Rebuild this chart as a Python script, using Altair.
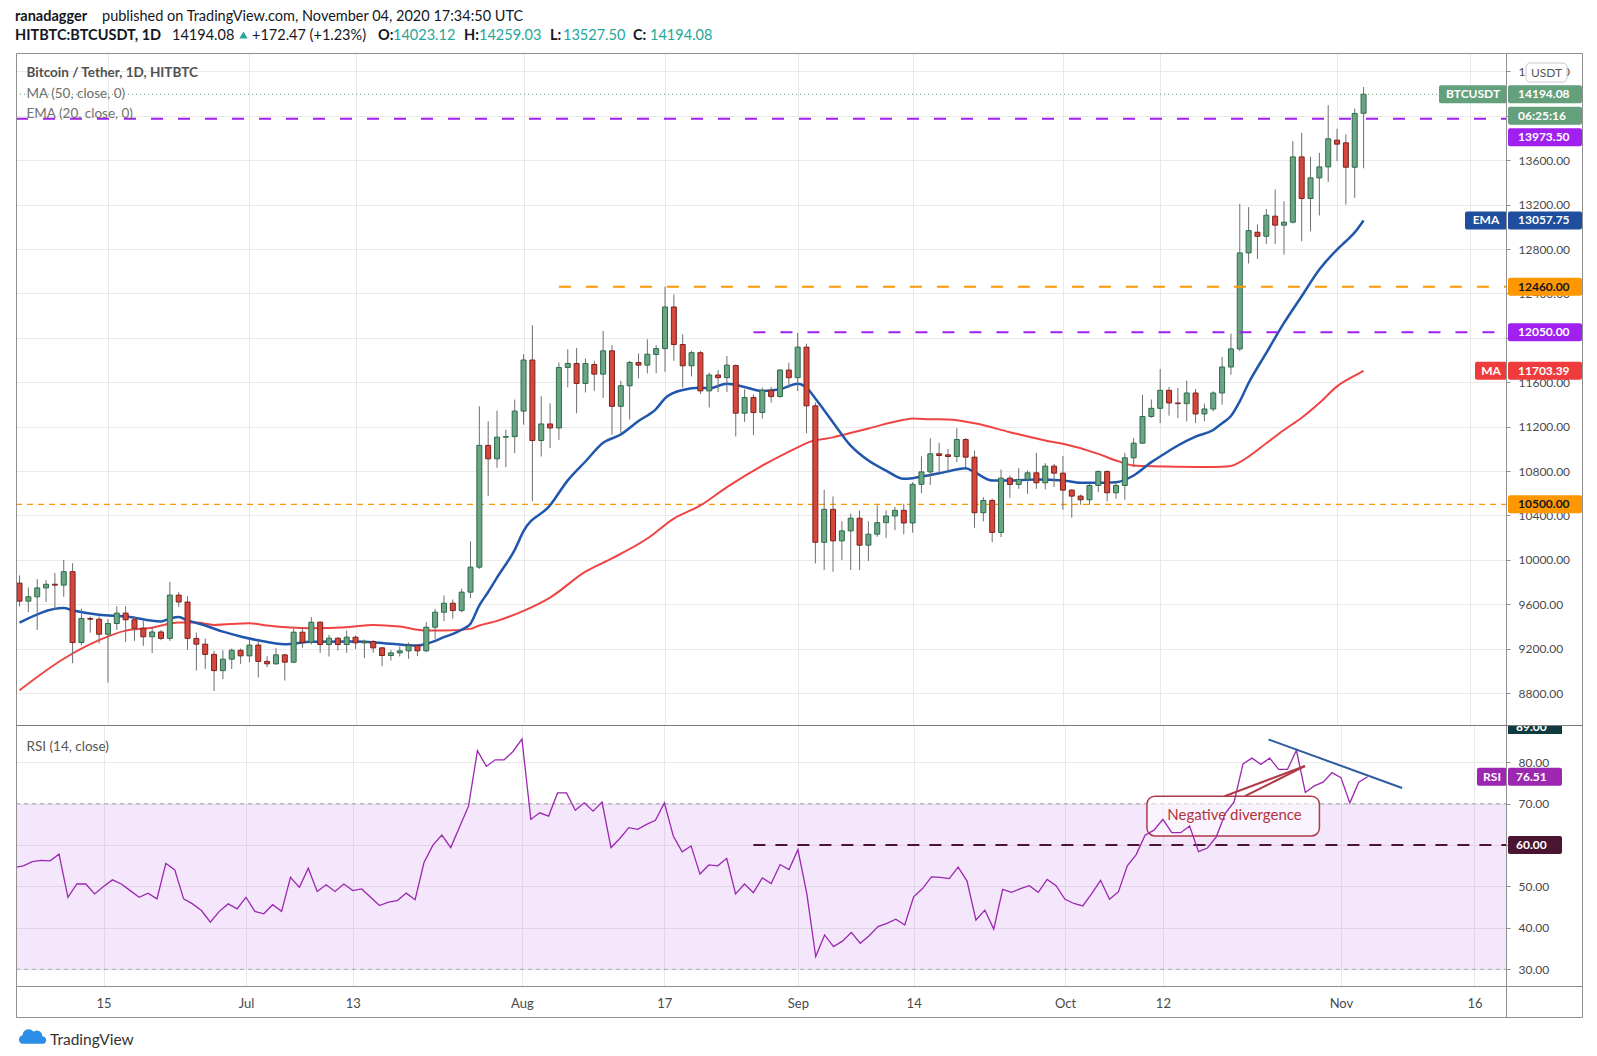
import altair as alt
import pandas as pd

# ------------------------------------------------------------------ data
days = pd.date_range("2020-06-05", "2020-11-04", freq="D").strftime("%Y-%m-%d").tolist()

opens = [
    # Jun 5-30
    9790, 9628, 9667, 9747, 9780, 9772, 9893, 9255, 9472, 9465, 9330, 9426, 9520,
    9460, 9383, 9307, 9350, 9292, 9682, 9620, 9292, 9240, 9148, 9002, 9105, 9185,
    # Jul
    9135, 9232, 9085, 9063, 9144, 9078, 9348, 9258, 9438, 9237, 9294, 9237, 9303,
    9252, 9264, 9207, 9138, 9162, 9180, 9228, 9180, 9393, 9528, 9609, 9543, 9709,
    9934, 11031, 10910, 11105, 11110,
    # Aug
    11340, 11800, 11075, 11224, 11188, 11733, 11769, 11589, 11760, 11673, 11883,
    11383, 11568, 11778, 11754, 11850, 11903, 12278, 11940, 11748, 11866, 11522,
    11665, 11641, 11750, 11321, 11462, 11327, 11527, 11471, 11710,
    # Sep
    11641, 11916, 11387, 10158, 10455, 10171, 10261, 10375, 10132, 10231, 10335,
    10395, 10446, 10332, 10680, 10792, 10955, 10946, 10931, 11084, 10925, 10424,
    10535, 10247, 10736, 10679, 10724, 10784, 10694, 10844,
    # Oct
    10781, 10628, 10574, 10541, 10670, 10796, 10604, 10670, 10919, 11051, 11291,
    11365, 11527, 11413, 11407, 11503, 11314, 11359, 11503, 11737, 11900, 12765,
    12951, 12915, 13096, 13015, 13042, 13630, 13255, 13441, 13540,
    # Nov 1-4
    13781, 13757, 13537, 14023.12,
]
highs = [
    9860, 9750, 9826, 9817, 9881, 10000, 9969, 9560, 9490, 9490, 9466, 9582, 9582,
    9490, 9450, 9398, 9368, 9802, 9710, 9673, 9344, 9292, 9179, 9185, 9200, 9200,
    9283, 9270, 9132, 9204, 9153, 9378, 9384, 9483, 9447, 9324, 9303, 9363, 9318,
    9282, 9279, 9213, 9189, 9219, 9255, 9234, 9438, 9558, 9679, 9643, 9739, 10166,
    11383, 11248, 11344, 11173, 11443,
    11853, 12113, 11473, 11410, 11778, 11897, 11907, 11814, 11793, 12062, 11933,
    11613, 11793, 11859, 11987, 11933, 12460, 12391, 12032, 11883, 11883, 11686,
    11709, 11835, 11760, 11536, 11491, 11551, 11557, 11716, 11775,
    12044, 11948, 11417, 10631, 10571, 10347, 10416, 10446, 10347, 10491, 10446,
    10476, 10506, 10700, 10933, 11095, 11054, 11000, 11186, 11096, 10985, 10565,
    10550, 10814, 10760, 10826, 10805, 10964, 10871, 10865,
    10934, 10635, 10589, 10685, 10805, 10805, 10700, 10964, 11096, 11486, 11444,
    11720, 11557, 11548, 11614, 11539, 11407, 11518, 11828, 12038, 13207, 13177,
    13021, 13162, 13336, 13231, 13772, 13847, 13630, 13667, 14096,
    13883, 13832, 14066, 14259.03,
]
lows = [
    9580, 9530, 9368, 9621, 9551, 9667, 9069, 9230, 9344, 9246, 8895, 9368, 9261,
    9270, 9225, 9160, 9276, 9270, 9576, 9190, 9002, 9017, 8818, 8925, 9017, 9063,
    9078, 8940, 9033, 9054, 8913, 9069, 9207, 9237, 9162, 9129, 9183, 9162, 9198,
    9114, 9162, 9042, 9093, 9129, 9108, 9132, 9168, 9288, 9447, 9469, 9528, 9655,
    9919, 10575, 10829, 10835, 10961,
    11218, 10527, 10931, 11006, 11081, 11553, 11320, 11508, 11523, 11458, 11126,
    11143, 11263, 11634, 11679, 11682, 11694, 11793, 11553, 11652, 11494, 11372,
    11512, 11512, 11112, 11243, 11124, 11273, 11417, 11462, 11551,
    11521, 11142, 9968, 9908, 9893, 9998, 9908, 9908, 9989, 10207, 10198,
    10267, 10231, 10245, 10601, 10675, 10775, 10796, 10880, 10835, 10289, 10346,
    10160, 10205, 10559, 10640, 10595, 10640, 10634, 10655,
    10451, 10379, 10496, 10496, 10610, 10526, 10550, 10541, 10835, 11045, 11280,
    11232, 11299, 11278, 11248, 11232, 11248, 11338, 11398, 11668, 11879, 12669,
    12711, 12846, 12846, 12750, 13030, 12870, 12960, 13102, 13405,
    13592, 13200, 13261, 13527.50,
]
closes = [
    9628, 9667, 9747, 9780, 9772, 9893, 9255, 9472, 9465, 9330, 9426, 9520, 9460,
    9383, 9307, 9350, 9292, 9682, 9620, 9292, 9240, 9148, 9002, 9105, 9185, 9135,
    9232, 9085, 9063, 9144, 9078, 9348, 9258, 9438, 9237, 9294, 9237, 9303, 9252,
    9264, 9207, 9138, 9162, 9180, 9228, 9180, 9393, 9528, 9609, 9543, 9709, 9934,
    11031, 10910, 11105, 11110, 11340,
    11800, 11075, 11224, 11188, 11733, 11769, 11589, 11769, 11673, 11883, 11383,
    11568, 11778, 11754, 11853, 11903, 12278, 11940, 11748, 11866, 11522, 11665,
    11641, 11754, 11321, 11462, 11327, 11527, 11471, 11710, 11641,
    11916, 11387, 10158, 10455, 10171, 10261, 10375, 10132, 10231, 10335, 10395,
    10446, 10332, 10680, 10792, 10955, 10940, 10931, 11084, 10925, 10424, 10535,
    10247, 10736, 10679, 10724, 10784, 10694, 10844, 10781,
    10628, 10574, 10541, 10670, 10796, 10604, 10670, 10919, 11051, 11291, 11365,
    11527, 11413, 11407, 11503, 11314, 11359, 11503, 11737, 11900, 12765, 12966,
    12915, 13105, 13015, 13042, 13630, 13255, 13441, 13540, 13793,
    13745, 13537, 14021.61, 14194.08,
]
rsi_vals = [
    54.6, 55.0, 56.0, 56.3, 56.2, 57.8, 47.4, 50.6, 50.6, 48.2, 50.0, 51.6, 50.6,
    49.0, 47.4, 48.4, 47.0, 55.6, 54.0, 47.0, 45.8, 44.2, 41.4, 44.0, 45.8, 44.6,
    47.4, 44.0, 43.4, 45.6, 44.0, 52.2, 49.8, 54.4, 48.8, 50.4, 48.8, 50.6, 49.0,
    49.4, 47.4, 45.4, 46.2, 46.6, 48.4, 46.8, 55.8, 60.0, 62.4, 59.4, 64.4, 69.4,
    82.8, 79.0, 80.6, 80.6, 82.6,
    85.6, 66.2, 67.8, 67.0, 72.6, 72.6, 68.4, 70.2, 68.2, 70.4, 59.4, 61.6, 64.2,
    63.8, 65.0, 66.0, 70.2, 62.2, 58.4, 59.8, 53.0, 55.2, 55.0, 56.8, 48.2, 50.6,
    48.5, 52.1, 50.7, 55.3, 54.1,
    58.9, 48.3, 33.1, 38.3, 35.5, 36.8, 38.9, 36.3, 38.1, 40.3, 41.1, 42.1, 40.7,
    47.5, 49.5, 52.3, 52.2, 51.9, 54.7, 51.3, 41.9, 44.3, 39.7, 49.3, 48.6, 49.5,
    50.2, 48.6, 51.7, 50.2,
    46.9, 45.9, 45.3, 48.3, 51.5, 46.9, 48.7, 55.0, 57.7, 62.4, 63.6, 66.2, 63.0,
    63.0, 64.6, 58.4, 59.3, 62.0, 67.6, 70.4, 79.6, 81.0, 79.5, 81.0, 78.3, 78.3,
    82.9, 72.7, 74.3, 75.2, 77.5,
    76.3, 70.2, 75.2, 76.51,
]

ema_dates = [
    "2020-06-05", "2020-06-10", "2020-06-11", "2020-06-14", "2020-06-17", "2020-06-21",
    "2020-06-22", "2020-06-23", "2020-06-24", "2020-06-26", "2020-06-28", "2020-06-30",
    "2020-07-02", "2020-07-05", "2020-07-08", "2020-07-13", "2020-07-17", "2020-07-20",
    "2020-07-21", "2020-07-23", "2020-07-25", "2020-07-26", "2020-07-27", "2020-07-28",
    "2020-07-29", "2020-07-31", "2020-08-01", "2020-08-04", "2020-08-06", "2020-08-08",
    "2020-08-10", "2020-08-12", "2020-08-14", "2020-08-16", "2020-08-17", "2020-08-19",
    "2020-08-21", "2020-08-22", "2020-08-24", "2020-08-26", "2020-08-28", "2020-08-30",
    "2020-09-01", "2020-09-02", "2020-09-03", "2020-09-05", "2020-09-07", "2020-09-09",
    "2020-09-11", "2020-09-13", "2020-09-14", "2020-09-16", "2020-09-17", "2020-09-19",
    "2020-09-20", "2020-09-21", "2020-09-23", "2020-09-25", "2020-09-28", "2020-10-01",
    "2020-10-03", "2020-10-05", "2020-10-07", "2020-10-09", "2020-10-11", "2020-10-12",
    "2020-10-14", "2020-10-16", "2020-10-18", "2020-10-19", "2020-10-20", "2020-10-21",
    "2020-10-22", "2020-10-24", "2020-10-26", "2020-10-28", "2020-10-30", "2020-11-01",
    "2020-11-02", "2020-11-03", "2020-11-04",
]
ema_vals = [
    9435, 9566, 9545, 9505, 9490, 9444, 9470, 9484, 9454, 9408, 9353, 9310,
    9275, 9240, 9262, 9265, 9243, 9228, 9243, 9303, 9370, 9425, 9590, 9710,
    9840, 10090, 10258, 10491, 10716, 10886, 11054, 11129, 11250, 11360, 11455, 11530,
    11551, 11545, 11587, 11557, 11521, 11536, 11587, 11551, 11453, 11238, 11028, 10894,
    10804, 10730, 10736, 10765, 10780, 10814, 10826, 10790, 10715, 10715, 10724, 10715,
    10694, 10694, 10700, 10760, 10880, 10931, 11030, 11110, 11170, 11230, 11295, 11428,
    11593, 11864, 12134, 12375, 12615, 12795, 12870, 12950, 13057.75,
]
ma_dates = [
    "2020-06-05", "2020-06-10", "2020-06-14", "2020-06-17", "2020-06-20", "2020-06-23",
    "2020-06-25", "2020-06-27", "2020-07-01", "2020-07-03", "2020-07-08", "2020-07-12",
    "2020-07-15", "2020-07-18", "2020-07-21", "2020-07-23", "2020-07-26", "2020-07-27",
    "2020-07-29", "2020-08-01", "2020-08-04", "2020-08-08", "2020-08-11", "2020-08-15",
    "2020-08-18", "2020-08-21", "2020-08-24", "2020-08-28", "2020-09-01", "2020-09-02",
    "2020-09-05", "2020-09-09", "2020-09-13", "2020-09-14", "2020-09-16", "2020-09-18",
    "2020-09-21", "2020-09-25", "2020-09-29", "2020-10-01", "2020-10-05", "2020-10-07",
    "2020-10-09", "2020-10-11", "2020-10-14", "2020-10-17", "2020-10-19", "2020-10-20",
    "2020-10-21", "2020-10-22", "2020-10-24", "2020-10-26", "2020-10-28", "2020-10-30",
    "2020-11-01", "2020-11-03", "2020-11-04",
]
ma_vals = [
    8825, 9109, 9276, 9362, 9389, 9435, 9435, 9414, 9429, 9408, 9384, 9393,
    9414, 9399, 9363, 9363, 9378, 9408, 9450, 9540, 9660, 9893, 10013, 10192,
    10372, 10490, 10655, 10849, 11014, 11052, 11103, 11184, 11261, 11273, 11267, 11264,
    11231, 11150, 11075, 11045, 10955, 10895, 10850, 10844, 10838, 10836, 10838, 10845,
    10880, 10930, 11050, 11170, 11280, 11413, 11563, 11659, 11703.39,
]

# horizontal levels drawn on the chart
level_top = 13973.50      # purple, full width
level_mid = 12050.00      # purple, from Aug 27
level_orange = 12460.00   # orange, from Aug 5
level_support = 10500.00  # thin orange, full width
last_price = 14194.08
ema_last = 13057.75
ma_last = 11703.39
rsi_last = 76.51

tick_dates = ["2020-06-15", "2020-07-01", "2020-07-13", "2020-08-01", "2020-08-17",
              "2020-09-01", "2020-09-14", "2020-10-01", "2020-10-12", "2020-11-01",
              "2020-11-16"]
# price grid every 400; 12000 and 14000 labels sit fully under the level tags
grid_ticks = list(range(8800, 14401, 400))
price_labels = [8800, 9200, 9600, 10000, 10400, 10800, 11200, 11600, 12400, 12800,
                13200, 13600, 14400]
rsi_ticks = [30, 40, 50, 60, 70, 80]

# ------------------------------------------------------------------ layout / style
W, H_MAIN, H_RSI = 1490, 672, 261
P_LO, P_HI = 8512, 14566
R_LO, R_HI = 25.97, 89.0
P_PER_PX = (P_HI - P_LO) / H_MAIN
R_PER_PX = (R_HI - R_LO) / H_RSI
FONT = "Lato"
GRID = "#e9e9e9"
FRAME = "#8f8f8f"
PURPLE = "#a020f0"
ORANGE = "#ff9800"
TAG_GREEN = "#64a07c"
EMA_C = "#2156ad"
MA_C = "#f04343"
RSI_C = "#9c27b0"
DARK = "#131722"

ONE = pd.DataFrame({"k": [0]})


def dt(s):
    y, m, d = [int(v) for v in s.split("-")]
    return alt.DateTime(year=y, month=m, date=d, utc=True)


xscale = alt.Scale(type="utc", domain=[
    alt.DateTime(year=2020, month=6, date=5, hours=4, utc=True),
    alt.DateTime(year=2020, month=11, date=19, hours=13, utc=True)])
yscale = alt.Scale(domain=[P_LO, P_HI], nice=False, zero=False)
rscale = alt.Scale(domain=[R_LO, R_HI], nice=False, zero=False)

tick_vals = [dt(s) for s in tick_dates]
x_axis_top = alt.Axis(values=tick_vals, labels=False, ticks=False, domain=False,
                      grid=True, gridColor=GRID, title=None)
x_axis_bottom = alt.Axis(values=tick_vals, ticks=False, domain=False, grid=True,
                         gridColor=GRID, title=None, labelFont=FONT, labelFontSize=13,
                         labelColor="#4a4a4a", labelPadding=11, labelFlush=False,
                         labelExpr="utcdate(datum.value) == 1 ? utcFormat(datum.value, '%b') : utcFormat(datum.value, '%d')")
label_test = " || ".join(f"datum.value == {v}" for v in price_labels)
y_axis = alt.Axis(orient="right", values=grid_ticks, format=".2f", grid=True,
                  gridColor=GRID, domain=False, ticks=True, tickSize=4, tickColor=FRAME,
                  labelPadding=8, labelFont=FONT, labelFontSize=12, labelColor="#4a4a4a",
                  title=None, labelFlush=False,
                  labelExpr=f"({label_test}) ? format(datum.value, '.2f') : ''")
r_axis = alt.Axis(orient="right", values=rsi_ticks, format=".2f", grid=True,
                  gridColor=GRID, domain=False, ticks=True, tickSize=4, tickColor=FRAME,
                  labelPadding=8, labelFont=FONT, labelFontSize=12, labelColor="#4a4a4a",
                  title=None, labelFlush=False,
                  labelExpr="datum.value == 60 ? '' : format(datum.value, '.2f')")

# every layer of a pane uses the very same axis definition, so they merge cleanly
PANE = {
    "main": dict(xaxis=x_axis_top, yaxis=y_axis, yscale=yscale, per_px=P_PER_PX),
    "rsi": dict(xaxis=x_axis_bottom, yaxis=r_axis, yscale=rscale, per_px=R_PER_PX),
}


def X(field, pane):
    return alt.X(field, scale=xscale, axis=PANE[pane]["xaxis"])


def Y(field, pane):
    return alt.Y(field, scale=PANE[pane]["yscale"], axis=PANE[pane]["yaxis"])


def text(x, y, s, size=13.5, color="#555555", weight="normal", align="left",
         baseline="middle"):
    return alt.Chart(ONE).mark_text(text=s, font=FONT, fontSize=size, color=color,
                                    fontWeight=weight, align=align,
                                    baseline=baseline).encode(x=alt.value(x), y=alt.value(y))


def hline(price, color, dash, width, pane, start=None):
    df = pd.DataFrame({"p": [price], "s": [start or "2020-06-05"]})
    enc = dict(y=Y("p:Q", pane), x2=alt.value(W))
    enc["x"] = X("s:T", pane) if start else alt.value(0)
    return alt.Chart(df).mark_rule(color=color, strokeDash=dash,
                                   strokeWidth=width).encode(**enc)


def tag(value, label, fill, x1, x2, tx, pane, align="left", off_px=0.0, half=9,
        ink="white"):
    per_px = PANE[pane]["per_px"]
    c = value - off_px * per_px
    df = pd.DataFrame({"lo": [c - half * per_px], "hi": [c + half * per_px], "c": [c],
                       "t": [label]})
    r = alt.Chart(df).mark_rect(color=fill, cornerRadius=2).encode(
        x=alt.value(x1), x2=alt.value(x2), y=Y("lo:Q", pane), y2="hi:Q")
    t = alt.Chart(df).mark_text(color=ink, font=FONT, fontSize=12, fontWeight="bold",
                                align=align, baseline="middle").encode(
        x=alt.value(tx), y=Y("c:Q", pane), text="t:N")
    return [r, t]


# ------------------------------------------------------------------ main pane
candles = pd.DataFrame({"date": days, "open": opens, "high": highs, "low": lows,
                        "close": closes})
ema_df = pd.DataFrame({"date": ema_dates, "v": ema_vals})
ma_df = pd.DataFrame({"date": ma_dates, "v": ma_vals})

up = alt.datum.close >= alt.datum.open

anchor = alt.Chart(ONE).mark_rect(opacity=0).encode(
    x=alt.value(-7), x2=alt.value(0), y=alt.value(-43), y2=alt.value(0))

wicks = alt.Chart(candles).mark_rule(color="#6f6f6f", strokeWidth=1, clip=True).encode(
    x=X("date:T", "main"), y=Y("low:Q", "main"), y2="high:Q")
bodies = alt.Chart(candles).mark_bar(width=5, strokeWidth=1, clip=True).encode(
    x=X("date:T", "main"), y=Y("open:Q", "main"), y2="close:Q",
    fill=alt.condition(up, alt.value("#6ba584"), alt.value("#d5473c")),
    stroke=alt.condition(up, alt.value("#2d6b4a"), alt.value("#7c221b")))

ema_line = alt.Chart(ema_df).mark_line(color=EMA_C, strokeWidth=2.5, clip=True,
                                       interpolate="monotone").encode(
    x=X("date:T", "main"), y=Y("v:Q", "main"))
ma_line = alt.Chart(ma_df).mark_line(color=MA_C, strokeWidth=2, clip=True,
                                     interpolate="monotone").encode(
    x=X("date:T", "main"), y=Y("v:Q", "main"))

main_layers = [
    anchor,
    hline(level_support, ORANGE, [6, 5], 1.2, "main"),
    ma_line, ema_line, wicks, bodies,
    hline(last_price, TAG_GREEN, [1, 3], 1, "main"),
    hline(level_orange, ORANGE, [12, 15], 2, "main", start="2020-08-05"),
    hline(level_mid, PURPLE, [12, 15], 2, "main", start="2020-08-27"),
    hline(level_top, PURPLE, [12, 15], 2, "main"),
    text(10.5, 20.4, "Bitcoin / Tether, 1D, HITBTC", size=13.5, color="#505050",
         weight="bold"),
    text(10.5, 40.8, "MA (50, close, 0)", size=13.5, color="#707070"),
    text(10.5, 61, "EMA (20, close, 0)", size=13.5, color="#707070"),
]
# axis tags
main_layers += tag(last_price, "BTCUSDT", TAG_GREEN, 1423, 1491, 1457, "main", align="center")
main_layers += tag(last_price, f"{last_price:.2f}", TAG_GREEN, 1492, 1566, 1502, "main")
main_layers += tag(last_price, "06:25:16", TAG_GREEN, 1492, 1566, 1502, "main", off_px=21.5)
main_layers += tag(level_top, f"{level_top:.2f}", PURPLE, 1492, 1566, 1502, "main", off_px=18.4)
main_layers += tag(ema_last, "EMA", "#1f4e9e", 1449, 1491, 1470, "main", align="center")
main_layers += tag(ema_last, f"{ema_last:.2f}", "#1f4e9e", 1492, 1566, 1502, "main")
main_layers += tag(level_orange, f"{level_orange:.2f}", ORANGE, 1492, 1566, 1502, "main",
                   ink=DARK)
main_layers += tag(level_mid, f"{level_mid:.2f}", PURPLE, 1492, 1566, 1502, "main")
main_layers += tag(ma_last, "MA", "#ef3b3b", 1459, 1491, 1475, "main", align="center")
main_layers += tag(ma_last, f"{ma_last:.2f}", "#ef3b3b", 1492, 1566, 1502, "main")
main_layers += tag(level_support, f"{level_support:.2f}", ORANGE, 1492, 1566, 1502, "main",
                   ink=DARK)
# currency box on the axis
main_layers += [
    alt.Chart(ONE).mark_rect(fill="white", stroke="#c8c8c8", strokeWidth=1,
                             cornerRadius=4).encode(
        x=alt.value(1510), x2=alt.value(1551), y=alt.value(10), y2=alt.value(29)),
    text(1530.5, 19.5, "USDT", size=12, color="#555555", align="center"),
]
# header
TEAL = "#26a69a"
main_layers += [
    text(-1, -43, "ranadagger", size=14.5, color=DARK, weight="bold", baseline="top"),
    text(86, -43, "published on TradingView.com, November 04, 2020 17:34:50 UTC",
         size=14.5, color=DARK, baseline="top"),
    text(-1, -17.5, "HITBTC:BTCUSDT, 1D", size=14.5, color=DARK, weight="bold"),
    text(156, -17.5, "14194.08", size=14.5, color=DARK),
    alt.Chart(ONE).mark_point(shape="triangle-up", filled=True, opacity=1, size=70,
                              color=TEAL).encode(x=alt.value(227.5), y=alt.value(-18)),
    text(236, -17.5, "+172.47 (+1.23%)", size=14.5, color=DARK),
    text(362, -17.5, "O:", size=14.5, color=DARK, weight="bold"),
    text(377, -17.5, "14023.12", size=14.5, color=TEAL),
    text(448, -17.5, "H:", size=14.5, color=DARK, weight="bold"),
    text(463, -17.5, "14259.03", size=14.5, color=TEAL),
    text(534, -17.5, "L:", size=14.5, color=DARK, weight="bold"),
    text(547, -17.5, "13527.50", size=14.5, color=TEAL),
    text(617, -17.5, "C:", size=14.5, color=DARK, weight="bold"),
    text(634, -17.5, "14194.08", size=14.5, color=TEAL),
]

top = alt.layer(*main_layers).properties(width=W, height=H_MAIN)

# ------------------------------------------------------------------ RSI pane
rsi_df = pd.DataFrame({"date": days, "rsi": rsi_vals})
band = alt.Chart(pd.DataFrame({"a": [70], "b": [30]})).mark_rect(
    color="#b25de8", opacity=0.15).encode(
    x=alt.value(0), x2=alt.value(W), y=Y("a:Q", "rsi"), y2="b:Q")

box_df = pd.DataFrame({"x": ["2020-10-10T05:00:00Z"], "x2": ["2020-10-29T14:00:00Z"],
                       "y": [71.8], "y2": [62.2]})
box = alt.Chart(box_df).mark_rect(fill="#ffffff", fillOpacity=0.55, stroke="#b03a48",
                                  strokeWidth=1.5, cornerRadius=8).encode(
    x=X("x:T", "rsi"), x2="x2:T", y=Y("y:Q", "rsi"), y2="y2:Q")

rsi_line = alt.Chart(rsi_df).mark_line(color=RSI_C, strokeWidth=1.3, clip=True).encode(
    x=X("date:T", "rsi"), y=Y("rsi:Q", "rsi"))

ptr_df = pd.DataFrame({"x": ["2020-10-18T22:00:00Z", "2020-10-21T05:00:00Z"],
                       "x2": ["2020-10-27T23:00:00Z", "2020-10-27T23:00:00Z"],
                       "y": [71.8, 71.8], "y2": [79.1, 79.1]})
pointer = alt.Chart(ptr_df).mark_rule(color="#b03a48", strokeWidth=2).encode(
    x=X("x:T", "rsi"), x2="x2:T", y=Y("y:Q", "rsi"), y2="y2:Q")

trend_df = pd.DataFrame({"x": ["2020-10-23T21:00:00Z"], "x2": ["2020-11-07T21:00:00Z"],
                         "y": [85.5], "y2": [73.8]})
trend = alt.Chart(trend_df).mark_rule(color="#2e5c9e", strokeWidth=2).encode(
    x=X("x:T", "rsi"), x2="x2:T", y=Y("y:Q", "rsi"), y2="y2:Q")

note_df = pd.DataFrame({"x": ["2020-10-20T01:00:00Z"], "y": [67.2],
                        "t": ["Negative divergence"]})
note = alt.Chart(note_df).mark_text(font=FONT, fontSize=15, color="#b2323f",
                                    align="center", baseline="middle").encode(
    x=X("x:T", "rsi"), y=Y("y:Q", "rsi"), text="t:N")

rsi_layers = [
    band,
    hline(70, "#a8a8a8", [4, 4], 1, "rsi"),
    hline(30, "#a8a8a8", [4, 4], 1, "rsi"),
    hline(60, "#4a1531", [12, 10], 2, "rsi", start="2020-08-27"),
    box, rsi_line, pointer, trend, note,
    text(10.5, 21.6, "RSI (14, close)", size=13.5, color="#555555"),
]
rsi_layers += tag(rsi_last, "RSI", RSI_C, 1461, 1491, 1476, "rsi", align="center")
rsi_layers += tag(rsi_last, f"{rsi_last:.2f}", RSI_C, 1492, 1546, 1500, "rsi")
rsi_layers += tag(60, "60.00", "#4a1530", 1492, 1546, 1500, "rsi")
rsi_layers += [
    alt.Chart(ONE).mark_rect(color="#0f3a3e").encode(
        x=alt.value(1492), x2=alt.value(1546), y=alt.value(0), y2=alt.value(9)),
    text(1500, 6, "89.00", size=12, color="white", weight="bold", baseline="alphabetic"),
]


def seg(x1, y1, x2, y2, color=FRAME):
    return alt.Chart(ONE).mark_rule(color=color, strokeWidth=1).encode(
        x=alt.value(x1), x2=alt.value(x2), y=alt.value(y1), y2=alt.value(y2))


rsi_layers += [
    seg(0.5, -671.5, 1566.5, -671.5),
    seg(0.5, 292.5, 1566.5, 292.5),
    seg(0.5, -671.5, 0.5, 292.5),
    seg(1566.5, -671.5, 1566.5, 292.5),
    seg(1490.5, -671.5, 1490.5, 292.5),
    seg(0.5, 0.5, 1566.5, 0.5, color="#7a7a7a"),
    seg(0.5, 261.5, 1566.5, 261.5),
    alt.Chart(ONE).mark_point(
        shape="M -0.75 0.45 A 0.3 0.3 0 0 1 -0.7 -0.12 A 0.42 0.42 0 0 1 0.05 -0.35 "
              "A 0.35 0.35 0 0 1 0.62 -0.05 A 0.26 0.26 0 0 1 0.72 0.45 Z",
        filled=True, opacity=1, size=900, color="#2c8ee8").encode(
        x=alt.value(17), y=alt.value(312)),
    text(34, 315, "TradingView", size=15.5, color="#333333"),
]

bottom = alt.layer(*rsi_layers).properties(width=W, height=H_RSI)

chart = alt.vconcat(top, bottom, spacing=0, bounds="flush").properties(
    padding={"left": 0, "top": 0, "right": 0, "bottom": 0}
).configure(font=FONT).configure_view(stroke="transparent")

chart.save("out.html", embed_options={"renderer": "svg", "actions": False})
